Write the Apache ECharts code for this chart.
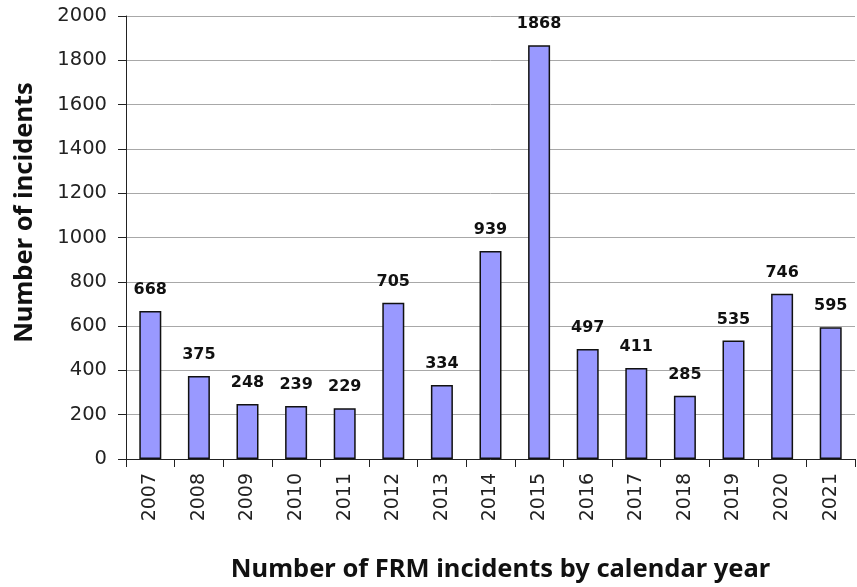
<!DOCTYPE html>
<html>
<head>
<meta charset="utf-8">
<script src="https://cdn.jsdelivr.net/npm/echarts@6/dist/echarts.min.js"></script>
<style>
  html, body { margin: 0; padding: 0; background: #fff; }
  #chart { width: 857px; height: 587px; }
</style>
</head>
<body>
<div id="chart"></div>
<script>
  const years = ['2007', '2008', '2009', '2010', '2011', '2012', '2013', '2014',
    '2015', '2016', '2017', '2018', '2019', '2020', '2021'];
  const incidents = [668, 375, 248, 239, 229, 705, 334, 939, 1868, 497, 411, 285, 535, 746, 595];
  const yTicks = [0, 200, 400, 600, 800, 1000, 1200, 1400, 1600, 1800, 2000];

  const myChart = echarts.init(document.getElementById('chart'));
  const tickFont = 'DejaVu Sans, Verdana, sans-serif';
  const titleFont = 'Noto Sans, DejaVu Sans, sans-serif';

  const option = {
    animation: false,
    grid: { left: 126, right: 2, top: 16, bottom: 128, outerBoundsMode: 'none', containLabel: false },
    xAxis: {
      type: 'category',
      data: years,
      boundaryGap: true,
      name: 'Number of FRM incidents by calendar year',
      nameLocation: 'middle',
      nameGap: 98,
      nameTextStyle: {
        fontFamily: titleFont, fontSize: 25.5, fontWeight: 'bold', color: '#111',
        padding: [0, 0, 0, 20]
      },
      axisLine: { lineStyle: { color: '#222', width: 1 } },
      axisTick: { show: true, length: 8, lineStyle: { color: '#222' } },
      axisLabel: { rotate: 90, margin: 14, fontFamily: tickFont, fontSize: 19, color: '#222', interval: 0 },
      splitLine: { show: false }
    },
    yAxis: {
      type: 'value',
      min: yTicks[0],
      max: yTicks[yTicks.length - 1],
      interval: 200,
      name: 'Number of incidents',
      nameLocation: 'middle',
      nameGap: 88,
      nameTextStyle: {
        fontFamily: titleFont, fontSize: 25.5, fontWeight: 'bold', color: '#111',
        padding: [0, 0, 0, 50]
      },
      axisLine: { show: true, lineStyle: { color: '#222', width: 1 } },
      axisTick: { show: true, length: 8, lineStyle: { color: '#222' } },
      axisLabel: { margin: 19, fontFamily: tickFont, fontSize: 19.5, color: '#222', formatter: (v) => String(v) },
      splitLine: { show: true, lineStyle: { color: '#a8a8a8', width: 1 } }
    },
    series: [{
      type: 'bar',
      data: incidents,
      barWidth: 22,
      itemStyle: { color: '#9999ff', borderColor: '#111', borderWidth: 1.5 },
      label: {
        show: true,
        position: 'top',
        distance: 13,
        fontFamily: tickFont,
        fontSize: 16,
        fontWeight: 'bold',
        color: '#111'
      }
    }]
  };
  myChart.setOption(option);
</script>
</body>
</html>
